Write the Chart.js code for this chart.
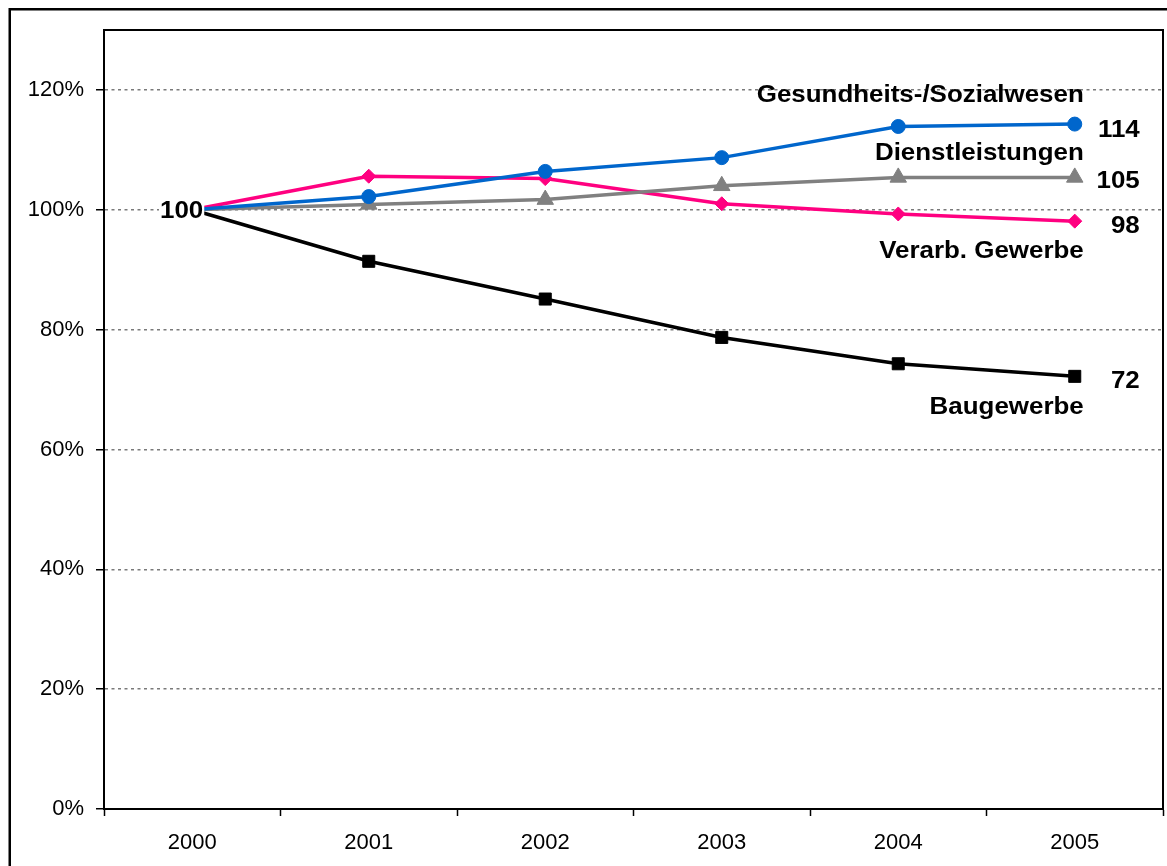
<!DOCTYPE html>
<html>
<head>
<meta charset="utf-8">
<script src="https://cdn.jsdelivr.net/npm/chart.js@4"></script>
<style>
  html, body { margin: 0; padding: 0; background: #fff; overflow: hidden; }
  #wrap { position: absolute; left: 0; top: 0; width: 1167px; height: 866px; }
</style>
</head>
<body>
<div id="wrap"><canvas id="c" width="1167" height="866"></canvas></div>
<script>
const years = ['2000', '2001', '2002', '2003', '2004', '2005'];
const seriesNames = ['Gesundheits-/Sozialwesen', 'Dienstleistungen', 'Verarb. Gewerbe', 'Baugewerbe'];
const gesundheit = [100, 102.2, 106.4, 108.7, 113.9, 114.3];
const dienst = [100, 100.9, 101.7, 104.0, 105.4, 105.4];
const verarb = [100, 105.6, 105.2, 101.0, 99.3, 98.1];
const bau = [100, 91.4, 85.1, 78.7, 74.3, 72.2];
const yTicks = [0, 20, 40, 60, 80, 100, 120];

const colors = ['#0066CC', '#808080', '#FF0080', '#000000'];
const shapes = ['circle', 'triangle', 'rectRot', 'rect'];
const radii = [7, 9.5, 7, 8.5];
const values = [gesundheit, dienst, verarb, bau];
// name label vertical offsets relative to last point, value label offsets
const nameDy = [-28.5, -24.5, 30.5, 31.5];
const valDy = [6, 3.5, 5.5, 5];

const datasets = values.map((v, i) => ({
  label: seriesNames[i],
  data: v.map(x => x / 100),
  borderColor: colors[i],
  backgroundColor: colors[i],
  borderWidth: 3.5,
  pointStyle: shapes[i],
  pointRadius: radii[i],
  pointBorderWidth: 1,
  pointBorderColor: colors[i],
  pointBackgroundColor: colors[i],
  tension: 0
}));

const frame = {
  id: 'frame',
  beforeDraw(chart) {
    const ctx = chart.ctx;
    ctx.save();
    ctx.fillStyle = '#fff';
    ctx.fillRect(0, 0, chart.width, chart.height);
    ctx.strokeStyle = '#000';
    ctx.lineWidth = 2.5;
    ctx.strokeRect(9.75, 9.25, 1300, 1000);
    ctx.restore();
  },
  afterDraw(chart) {
    const ctx = chart.ctx;
    const a = chart.chartArea;
    ctx.save();
    ctx.strokeStyle = '#000';
    ctx.lineWidth = 2;
    ctx.strokeRect(a.left, a.top, a.right - a.left, a.bottom - a.top);
    ctx.restore();
  }
};

function stretchText(ctx, txt, x, y, align, sx) {
  ctx.save();
  ctx.translate(x, y);
  ctx.scale(sx, 1);
  ctx.textAlign = align;
  ctx.fillText(txt, 0, 0);
  ctx.restore();
}

const labels = {
  id: 'labels',
  afterDatasetsDraw(chart) {
    const ctx = chart.ctx;
    ctx.save();
    ctx.font = 'bold 24px "Liberation Sans", Arial, sans-serif';
    ctx.textBaseline = 'middle';
    ctx.fillStyle = '#000';
    const sx = 1.08;
    chart.data.datasets.forEach((ds, i) => {
      const meta = chart.getDatasetMeta(i);
      const last = meta.data[meta.data.length - 1];
      stretchText(ctx, seriesNames[i], last.x + 9, last.y + nameDy[i], 'right', sx);
      stretchText(ctx, String(Math.round(values[i][values[i].length - 1])), last.x + 65, last.y + valDy[i], 'right', sx);
    });
    // "100" label at the start
    const m0 = chart.getDatasetMeta(0).data[0];
    const txt = String(values[0][0]);
    const w = ctx.measureText(txt).width * sx;
    ctx.fillStyle = '#fff';
    ctx.fillRect(m0.x + 11 - w - 1, m0.y - 12, w + 2, 24);
    ctx.fillStyle = '#000';
    stretchText(ctx, txt, m0.x + 11, m0.y + 2, 'right', sx);
    ctx.restore();
  }
};

new Chart(document.getElementById('c'), {
  type: 'line',
  data: { labels: years, datasets },
  options: {
    responsive: false,
    animation: false,
    devicePixelRatio: 1,
    layout: { autoPadding: false, padding: { top: 30, right: 4, left: 0, bottom: 0 } },
    plugins: { legend: { display: false }, tooltip: { enabled: false } },
    scales: {
      x: {
        type: 'category',
        offset: true,
        grid: {
          offset: true,
          drawOnChartArea: false,
          drawTicks: true,
          tickLength: 7,
          tickColor: '#000',
          tickWidth: 1.5
        },
        border: { display: true, color: '#000', width: 2 },
        ticks: {
          color: '#000',
          font: { family: '"Liberation Sans", Arial, sans-serif', size: 22 },
          padding: 14,
          maxRotation: 0
        },
        afterFit(scale) {
          scale.height = 57;
          scale.paddingLeft = 0;
          scale.paddingRight = 0;
        }
      },
      y: {
        min: 0,
        max: 1.3,
        afterBuildTicks(scale) { scale.ticks = yTicks.map(v => ({ value: v / 100 })); },
        grid: {
          color: ctx => (ctx.tick && ctx.tick.value === 0) ? 'rgba(0,0,0,0)' : '#7a7a7a',
          lineWidth: 1.5,
          drawTicks: true,
          tickLength: 8,
          tickColor: '#000',
          tickWidth: 1.5,
          tickBorderDash: []
        },
        border: { display: true, color: '#000', width: 2, dash: [3, 3.5] },
        ticks: {
          color: '#000',
          font: { family: '"Liberation Sans", Arial, sans-serif', size: 22 },
          padding: 12,
          callback: v => Math.round(v * 100) + '%'
        },
        afterFit(scale) { scale.width = 104; }
      }
    }
  },
  plugins: [frame, labels]
});
</script>
</body>
</html>
